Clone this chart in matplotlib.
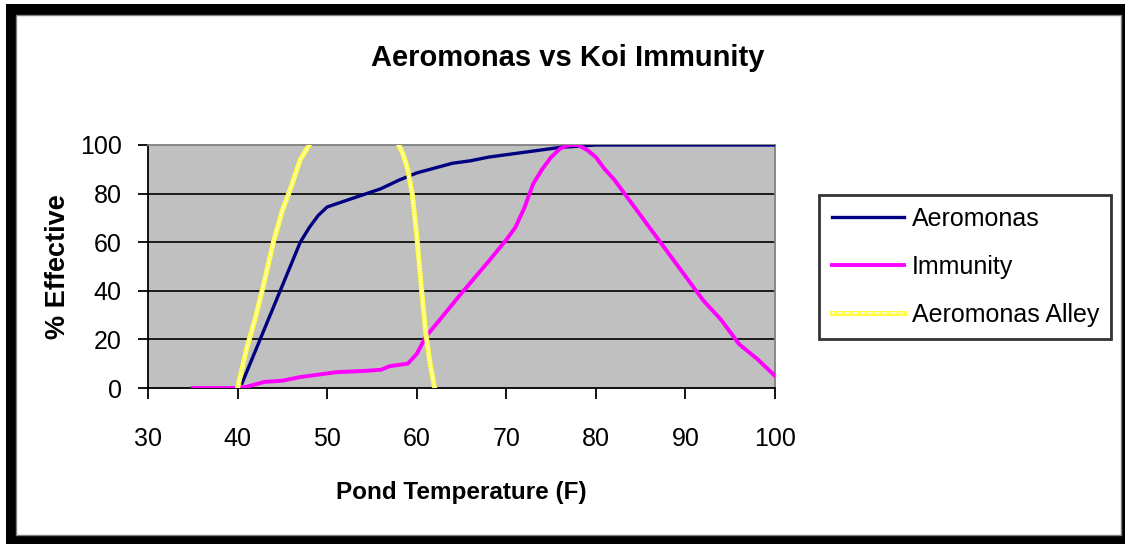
import numpy as np
import matplotlib.pyplot as plt
from matplotlib.patches import Rectangle
from matplotlib.legend_handler import HandlerTuple

plt.rcParams['font.family'] = ['Liberation Sans', 'DejaVu Sans']

# Aeromonas activity vs pond temperature
aero_t = [40.5, 47, 48, 49, 50, 52, 54, 56, 58, 60, 62, 64, 66, 68, 70, 72, 74, 76, 78, 80, 100]
aero_v = [2, 60, 66, 71, 74.5, 77, 79.5, 82, 85.5, 88.5, 90.5, 92.5, 93.5, 95, 96, 97, 98, 99, 99.5, 100, 100]

# Koi immunity vs pond temperature
imm_t = [35, 40, 41, 42, 43, 45, 47, 49, 51, 54, 56, 57, 59, 60, 61, 63, 65, 68, 70, 71, 72, 73, 74,
         75, 76, 77, 78, 79, 80, 81, 82, 84, 86, 88, 90, 92, 94, 96, 98, 100]
imm_v = [0, 0, 0.5, 1.5, 2.5, 3, 4.5, 5.5, 6.5, 7, 7.5, 9, 10, 14, 21, 30, 39, 52, 61, 66, 74, 84, 90,
         95, 98.5, 100, 100, 98, 95, 90, 86, 76, 66, 56, 46, 36, 28, 18, 12, 5]

# "Aeromonas Alley" (goes off the top of the chart between 48 and 58)
alley_t = [40, 41, 42, 43, 44, 45, 46, 47, 48, 53, 58, 58.5, 59, 59.5, 60, 60.5, 61, 61.5, 62]
alley_v = [0, 16, 29, 44, 60, 73, 83, 94, 100, np.nan, 100, 96, 90, 80, 63, 42, 23, 10, 0]

W, H = 1125, 544
fig = plt.figure(figsize=(W / 100, H / 100), dpi=100)
fig.patch.set_facecolor('white')

# black frame round the chart
fig.patches.append(Rectangle((6 / W, 0), 1 - 6 / W, 1 - 4 / H, transform=fig.transFigure,
                             facecolor='black', edgecolor='none', zorder=-2))
fig.patches.append(Rectangle((16 / W, 9 / H), (1121 - 16) / W, (535 - 15) / H, transform=fig.transFigure,
                             facecolor='white', edgecolor='#808080', lw=1, zorder=-1))

ax = fig.add_axes([148 / W, (H - 388) / H, (775 - 148) / W, (388 - 145) / H])
ax.set_facecolor('#C0C0C0')

l1, = ax.plot(aero_t, aero_v, color='#000080', lw=2.4, label='Aeromonas', zorder=3)
l2, = ax.plot(imm_t, imm_v, color='#FF00FF', lw=2.8, label='Immunity', zorder=3)
l3, = ax.plot(alley_t, alley_v, color='#FFFF40', lw=3.6, zorder=4)
l3w, = ax.plot(alley_t, alley_v, color='white', lw=1.4, dashes=(0.7, 0.7), zorder=5)

ax.set_xlim(30, 100)
ax.set_ylim(0, 100)
ax.set_xticks(range(30, 101, 10))
ax.set_yticks(range(0, 101, 20))
for y in [20, 40, 60, 80]:
    ax.axhline(y, color='black', lw=1.2, zorder=1)

for s in ['left', 'bottom']:
    ax.spines[s].set_color('black')
    ax.spines[s].set_linewidth(1.3)
for s in ['top', 'right']:
    ax.spines[s].set_color('#808080')
    ax.spines[s].set_linewidth(1.3)

ax.tick_params(axis='x', direction='out', length=8, width=1.3, pad=20, labelsize=18)
ax.tick_params(axis='y', direction='out', length=7, width=1.3, pad=12, labelsize=18)

ax.set_xlabel('Pond Temperature (F)', fontsize=17.5, fontweight='bold', labelpad=22)
ax.set_ylabel('% Effective', fontsize=19.5, fontweight='bold', labelpad=6)
fig.text(568 / W, 1 - 58 / H, 'Aeromonas vs Koi Immunity', fontsize=21, fontweight='bold',
         ha='center', va='center')

leg = fig.legend([l1, l2, (l3, l3w)], ['Aeromonas', 'Immunity', 'Aeromonas Alley'],
                 handler_map={tuple: HandlerTuple(ndivide=1, pad=0)},
                 loc='center left', bbox_to_anchor=(819 / W, 1 - 267 / H),
                 fontsize=18, frameon=True, fancybox=False, handlelength=2.9,
                 handletextpad=0.3, labelspacing=0.95, borderpad=0.5, borderaxespad=0)
leg.get_frame().set_edgecolor('black')
leg.get_frame().set_linewidth(2)

fig.savefig('out.png', dpi=100)
